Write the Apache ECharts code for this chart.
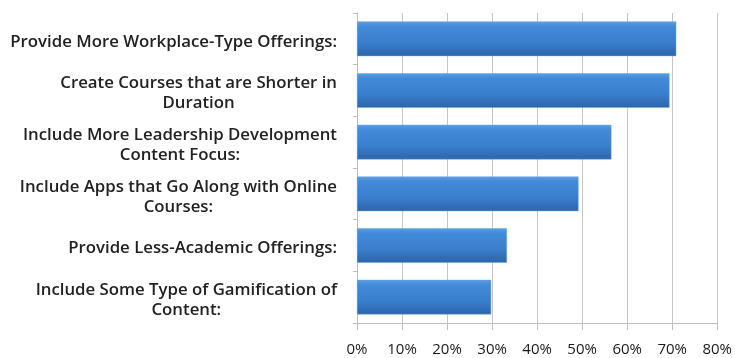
<!DOCTYPE html>
<html>
<head>
<meta charset="utf-8">
<script src="https://cdn.jsdelivr.net/npm/echarts@6/dist/echarts.min.js"></script>
<style>html,body{margin:0;padding:0;background:#fff;}#c{width:735px;height:358px;}</style>
</head>
<body>
<div id="c"></div>
<script>
var categories = [
  "Provide More Workplace-Type Offerings:",
  "Create Courses that are Shorter in\nDuration",
  "Include More Leadership Development\nContent Focus:",
  "Include Apps that Go Along with Online\nCourses:",
  "Provide Less-Academic Offerings:",
  "Include Some Type of Gamification of\nContent:"
];
var values = [70.9, 69.4, 56.5, 49.2, 33.3, 29.8];
var xTicks = [0, 10, 20, 30, 40, 50, 60, 70, 80];

var chart = echarts.init(document.getElementById('c'), null, {renderer: 'canvas'});
var font = "'Open Sans', sans-serif";
chart.setOption({
  animation: false,
  backgroundColor: '#fff',
  grid: {left: 357, right: 13, top: 13, bottom: 35, containLabel: false},
  xAxis: {
    type: 'value',
    min: xTicks[0],
    max: xTicks[xTicks.length - 1],
    interval: 10,
    axisLine: {show: true, lineStyle: {color: '#bdbdbd', width: 1}},
    axisTick: {show: true, length: 7, lineStyle: {color: '#bdbdbd'}},
    splitLine: {show: true, lineStyle: {color: '#c4c4c4', width: 1}},
    axisLabel: {
      formatter: '{value}%', margin: 19, color: '#1a1a1a',
      fontFamily: font, fontSize: 15, fontWeight: 500
    }
  },
  yAxis: {
    type: 'category',
    inverse: true,
    data: categories,
    axisLine: {show: true, lineStyle: {color: '#bdbdbd', width: 1}},
    axisTick: {show: true, length: 4, lineStyle: {color: '#bdbdbd'}},
    axisLabel: {
      margin: 20, align: 'right', color: '#222',
      fontFamily: font, fontSize: 16.8, fontWeight: 600, lineHeight: 20,
      padding: [6, 0, 0, 0],
      formatter: function (v) {
        return v.split('\n').map(function (l) { return '{c|' + l + '}'; }).join('\n');
      },
      rich: {c: {align: 'center', fontFamily: font, fontSize: 16.8, fontWeight: 600, lineHeight: 20, color: '#222'}}
    }
  },
  series: [{
    type: 'bar',
    data: values,
    barCategoryGap: '33%',
    itemStyle: {
      color: new echarts.graphic.LinearGradient(0, 0, 0, 1, [
        {offset: 0, color: '#5a9de3'},
        {offset: 0.15, color: '#428ad8'},
        {offset: 0.6, color: '#3a7fcd'},
        {offset: 1, color: '#2c64ab'}
      ]),
      borderColor: '#6aa6e2',
      borderWidth: 0.5
    }
  }]
});
</script>
</body>
</html>
